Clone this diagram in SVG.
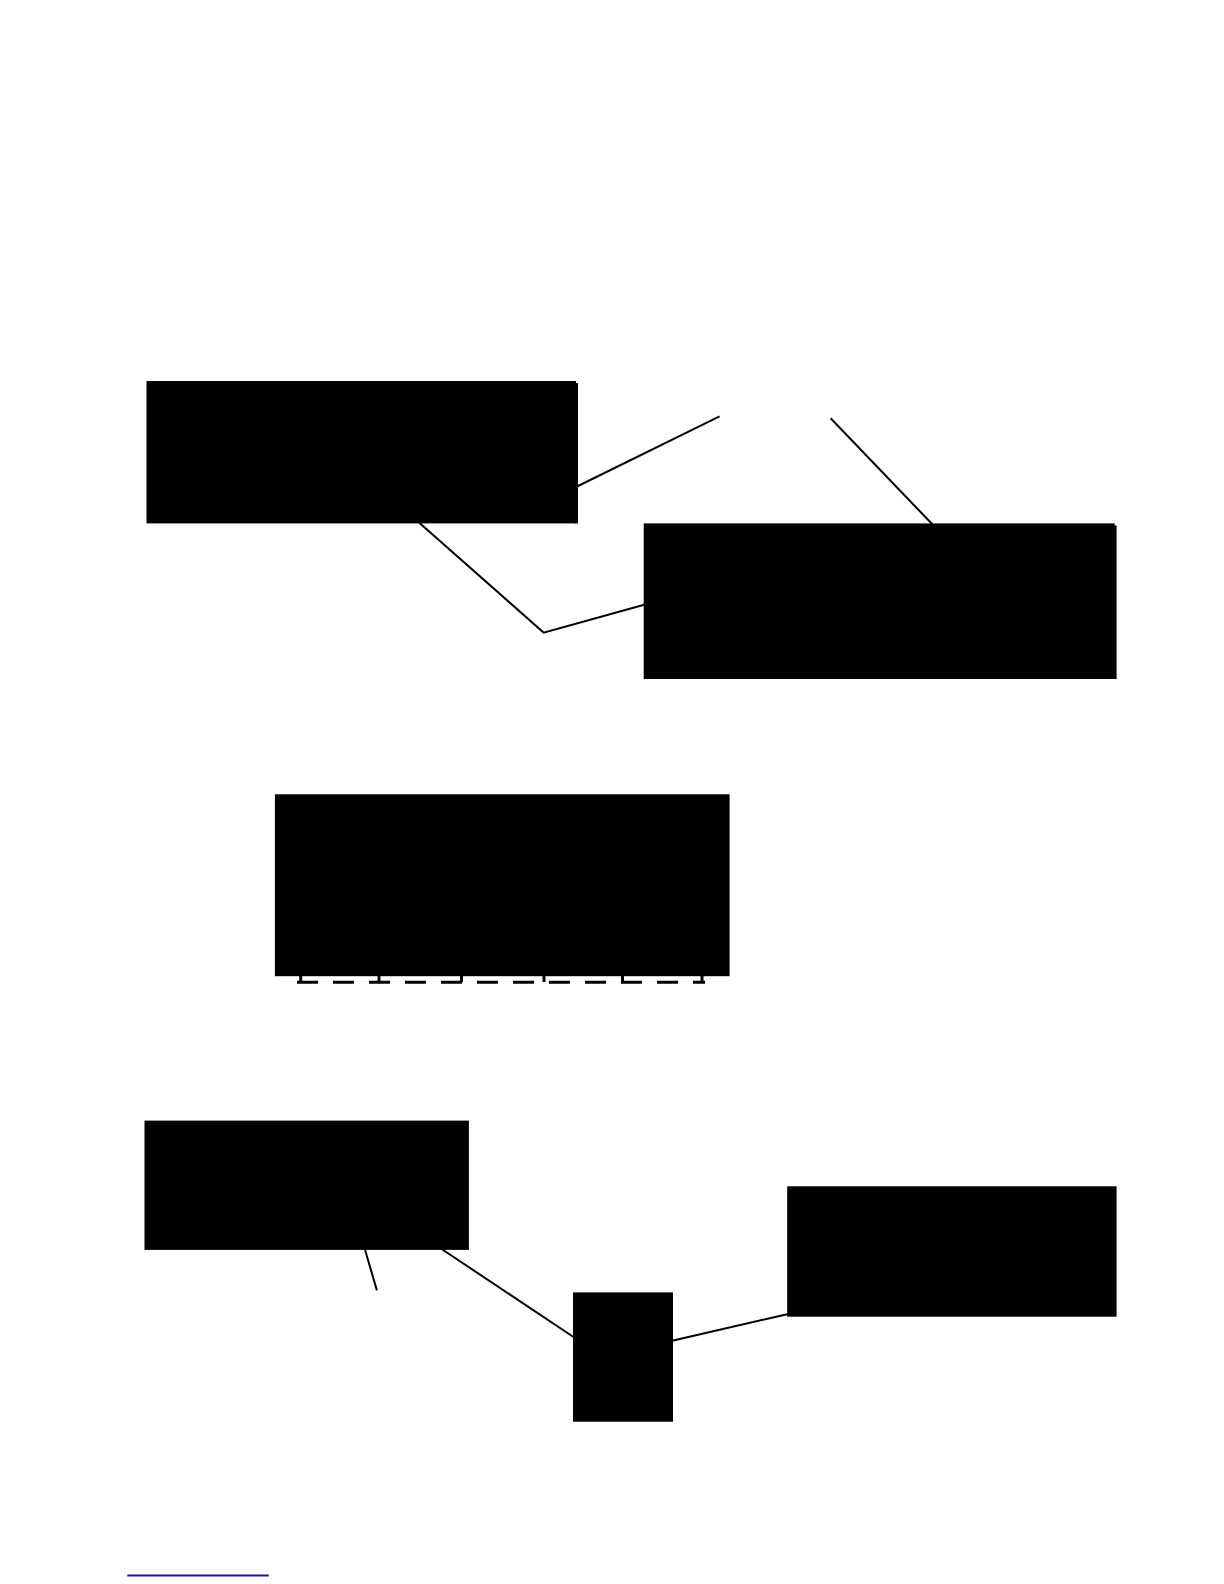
<svg xmlns="http://www.w3.org/2000/svg" width="1224" height="1584" viewBox="0 0 1224 1584">
<style>
.node{fill:#000;stroke:none}
.conn{fill:none;stroke:#000;stroke-width:2}
.dash{fill:none;stroke:#000;stroke-width:3;stroke-dasharray:21,15}
.tick{fill:none;stroke:#000;stroke-width:3}
</style>
<rect width="1224" height="1584" fill="#fff"/>
<g id="connectors">
<line class="conn" x1="576" y1="487" x2="719.5" y2="416.3"/>
<line class="conn" x1="830.6" y1="418.3" x2="934" y2="526"/>
<polyline class="conn" points="417.3,521 543.6,632.6 646,604.3"/>
<line class="conn" x1="364.8" y1="1249" x2="376.9" y2="1290.4"/>
<line class="conn" x1="441.6" y1="1249" x2="575" y2="1338"/>
<line class="conn" x1="671" y1="1341" x2="789.5" y2="1313.7"/>
</g>
<g id="node1">
<rect class="node" x="146.5" y="381" width="429.5" height="142.4"/>
<rect class="node" x="575" y="383" width="3" height="140.4"/>
</g>
<g id="node2">
<rect class="node" x="643.7" y="523.4" width="470.9" height="155.6"/>
<rect class="node" x="1114" y="525.4" width="2.6" height="153.6"/>
</g>
<g id="node3">
<line class="dash" x1="297" y1="982.3" x2="705" y2="982.3"/>
<g class="tick">
<line x1="300.7" y1="974" x2="300.7" y2="982"/>
<line x1="379" y1="974" x2="379" y2="982"/>
<line x1="461.5" y1="974" x2="461.5" y2="982"/>
<line x1="544" y1="974" x2="544" y2="982"/>
<line x1="622.5" y1="974" x2="622.5" y2="982"/>
<line x1="702" y1="974" x2="702" y2="982"/>
</g>
<rect class="node" x="274.9" y="794.3" width="454.7" height="181.9"/>
</g>
<g id="node4"><rect class="node" x="144.5" y="1120.6" width="324.4" height="129.3"/></g>
<g id="node5"><rect class="node" x="573" y="1292.4" width="100" height="129.3"/></g>
<g id="node6"><rect class="node" x="787.2" y="1186.3" width="329.4" height="130.4"/></g>
<line x1="127.3" y1="1575.4" x2="268.8" y2="1575.4" stroke="#1a1a8c" stroke-width="2"/>
</svg>
